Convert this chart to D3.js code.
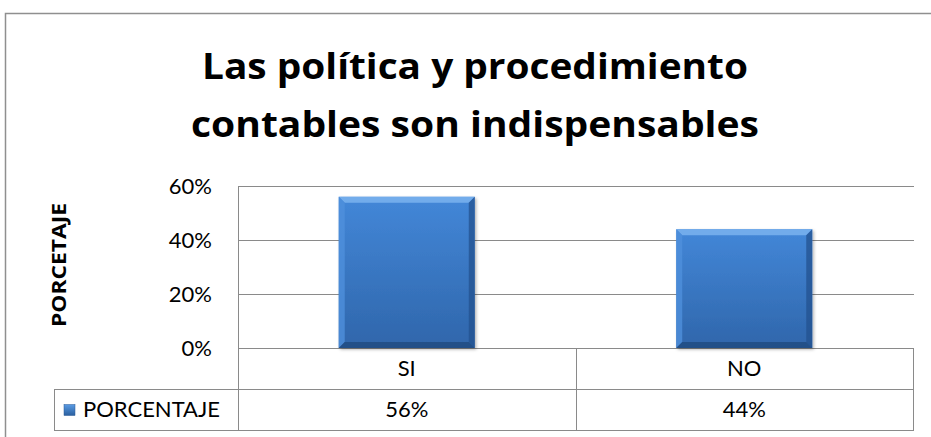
<!DOCTYPE html>
<html>
<head>
<meta charset="utf-8">
<script src="https://cdn.jsdelivr.net/npm/d3@7"></script>
<style>
  html, body { margin: 0; padding: 0; background: #fff; }
  svg { display: block; }
  text { font-family: Lato, "Open Sans", sans-serif; fill: #000; }
</style>
</head>
<body>
<svg id="chart" width="931" height="437"></svg>
<script>
// ---- data ----
const titleLines = ["Las política y procedimiento", "contables son indispensables"];
const categories = ["SI", "NO"];
const values = [0.56, 0.44];
const yTicks = [0, 0.2, 0.4, 0.6];
const seriesName = "PORCENTAJE";
const yAxisTitle = "PORCETAJE";

// ---- layout ----
const W = 931, H = 437;
const plot = { left: 238, right: 913, top: 186, bottom: 348 };
const rowH = 41;
const legendLeft = 54;
const gridColor = "#8a8a8a";
const fs = 22;
const boldFont = "'Open Sans', Lato, sans-serif";

const svg = d3.select("#chart");

// outer chart border
svg.append("path")
  .attr("d", `M5.5,${H + 2} V13.5 H${W + 2}`)
  .attr("fill", "none").attr("stroke", "#8f8f8f").attr("stroke-width", 1.5);

const x = d3.scaleBand().domain(categories).range([plot.left, plot.right]).padding(0);
const y = d3.scaleLinear().domain([0, 0.6]).range([plot.bottom, plot.top]);
const fmt = d3.format(".0%");

// gridlines
svg.append("g").selectAll("line").data(yTicks).join("line")
  .attr("x1", plot.left).attr("x2", plot.right + 1)
  .attr("y1", d => Math.round(y(d)) + 0.5).attr("y2", d => Math.round(y(d)) + 0.5)
  .attr("stroke", gridColor).attr("stroke-width", 1);

// y axis tick labels
const yAxis = d3.axisLeft(y).tickValues(yTicks).tickFormat(fmt).tickSize(0).tickPadding(26);
const gy = svg.append("g").attr("transform", `translate(${plot.left},0)`).call(yAxis);
gy.select(".domain").remove();
gy.selectAll("text").style("font-family", "Lato, sans-serif").attr("font-size", fs).attr("fill", "#000");

// y axis title
svg.append("text")
  .attr("transform", `translate(66,265) rotate(-90)`)
  .attr("text-anchor", "middle")
  .style("font-family", boldFont)
  .attr("font-weight", "bold").attr("font-size", 19)
  .attr("textLength", 124).attr("lengthAdjust", "spacingAndGlyphs")
  .text(yAxisTitle);

// title
const titleWidths = [546, 568];
svg.append("g").selectAll("text").data(titleLines).join("text")
  .attr("x", 475).attr("y", (d, i) => 79 + i * 58)
  .attr("text-anchor", "middle").style("font-family", boldFont)
  .attr("font-weight", "bold").attr("font-size", 36)
  .attr("textLength", (d, i) => titleWidths[i]).attr("lengthAdjust", "spacingAndGlyphs")
  .text(d => d);

// bars with bevel
const defs = svg.append("defs");
const grad = defs.append("linearGradient").attr("id", "barGrad").attr("x1", 0).attr("y1", 0).attr("x2", 0).attr("y2", 1);
grad.append("stop").attr("offset", "0%").attr("stop-color", "#4387d8");
grad.append("stop").attr("offset", "100%").attr("stop-color", "#2f66ab");
const shadow = defs.append("filter").attr("id", "sh").attr("x", "-10%").attr("y", "-10%").attr("width", "130%").attr("height", "130%");
shadow.append("feDropShadow").attr("dx", 1.5).attr("dy", 1.5).attr("stdDeviation", 1.5).attr("flood-color", "#000").attr("flood-opacity", 0.3);

const barFrac = 0.403;
const bw = x.bandwidth() * barFrac;
const bars = svg.append("g").selectAll("g").data(categories.map((c, i) => ({ c, v: values[i] }))).join("g");
bars.each(function (d) {
  const g = d3.select(this);
  const x0 = x(d.c) + (x.bandwidth() - bw) / 2, x1 = x0 + bw;
  const y0 = y(d.v), y1 = y(0);
  const b = 6;
  g.append("rect").attr("x", x0).attr("y", y0).attr("width", bw).attr("height", y1 - y0)
    .attr("fill", "url(#barGrad)").attr("filter", "url(#sh)");
  const facets = [
    { pts: [[x0, y0], [x1, y0], [x1 - b, y0 + b], [x0 + b, y0 + b]], fill: "#7ab3ee", op: 0.85 },
    { pts: [[x0, y0], [x0 + b, y0 + b], [x0 + b, y1 - b], [x0, y1]], fill: "#4f90dc", op: 0.8 },
    { pts: [[x1, y0], [x1, y1], [x1 - b, y1 - b], [x1 - b, y0 + b]], fill: "#23528f", op: 0.75 },
    { pts: [[x0, y1], [x0 + b, y1 - b], [x1 - b, y1 - b], [x1, y1]], fill: "#1f4a80", op: 0.8 }
  ];
  g.selectAll("path.f").data(facets).join("path").attr("class", "f")
    .attr("d", f => "M" + f.pts.map(p => p.join(",")).join("L") + "Z")
    .attr("fill", f => f.fill).attr("opacity", f => f.op);
});

// left axis line (extends through table)
svg.append("line").attr("x1", plot.left + 0.5).attr("x2", plot.left + 0.5)
  .attr("y1", plot.top).attr("y2", plot.bottom + 2 * rowH + 1)
  .attr("stroke", gridColor);

// data table
const tbl = svg.append("g").attr("stroke", gridColor).attr("fill", "none");
tbl.append("line").attr("x1", legendLeft).attr("x2", plot.right + 0.5)
  .attr("y1", plot.bottom + rowH + 0.5).attr("y2", plot.bottom + rowH + 0.5);
tbl.append("line").attr("x1", legendLeft).attr("x2", plot.right + 0.5)
  .attr("y1", plot.bottom + 2 * rowH + 0.5).attr("y2", plot.bottom + 2 * rowH + 0.5);
tbl.append("line").attr("x1", legendLeft + 0.5).attr("x2", legendLeft + 0.5)
  .attr("y1", plot.bottom + rowH).attr("y2", plot.bottom + 2 * rowH + 1);
const seps = categories.slice(1).map(c => x(c)).concat([plot.right]);
tbl.selectAll("line.sep").data(seps).join("line").attr("class", "sep")
  .attr("x1", d => Math.round(d) + 0.5).attr("x2", d => Math.round(d) + 0.5)
  .attr("y1", plot.bottom).attr("y2", plot.bottom + 2 * rowH + 1);

// category labels row
svg.append("g").selectAll("text").data(categories).join("text")
  .attr("x", d => x(d) + x.bandwidth() / 2).attr("y", plot.bottom + rowH / 2)
  .attr("dy", "0.36em").attr("text-anchor", "middle").attr("font-size", fs)
  .text(d => d);
// values row
svg.append("g").selectAll("text").data(categories).join("text")
  .attr("x", d => x(d) + x.bandwidth() / 2).attr("y", plot.bottom + rowH * 1.5)
  .attr("dy", "0.36em").attr("text-anchor", "middle").attr("font-size", fs)
  .text((d, i) => fmt(values[i]));

// legend key in table
const ky = plot.bottom + rowH * 1.5;
const kg = defs.append("linearGradient").attr("id", "keyGrad").attr("x1", 0).attr("y1", 0).attr("x2", 0).attr("y2", 1);
kg.append("stop").attr("offset", "0%").attr("stop-color", "#5a9be4");
kg.append("stop").attr("offset", "100%").attr("stop-color", "#2a5f9f");
svg.append("rect").attr("x", 64).attr("y", ky - 5).attr("width", 11).attr("height", 11)
  .attr("fill", "url(#keyGrad)").attr("stroke", "#2a5a95").attr("stroke-width", 0.5);
svg.append("text").attr("x", 83).attr("y", ky).attr("dy", "0.36em")
  .attr("font-size", fs).text(seriesName);
</script>
</body>
</html>
